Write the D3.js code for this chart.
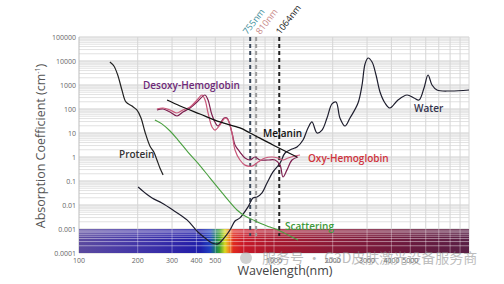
<!DOCTYPE html>
<html lang="en">
<head>
  <meta charset="UTF-8">
  <title>Absorption Coefficients</title>
  <script src="https://d3js.org/d3.v7.min.js"></script>
  <style>
    body {
      margin: 0;
      background-color: #fff;
      font-family: "Open Sans", Arial, sans-serif;
    }
    #chart {
      display: block;
    }
  </style>
</head>
<body>
  <svg id="chart" width="504" height="284"></svg>

  <script>
    // [wavelength nm, absorption coefficient cm^-1]
    const protein = [
      [144, 9100], [151, 6200], [158, 2600], [166, 620], [174, 196], [187, 133],
      [198, 91], [208, 42], [218, 11], [231, 2.9], [242, 1.6], [251, 0.75],
      [260, 0.35], [270, 0.18]
    ];
    const water = [
      [201, 0.056], [218, 0.032], [237, 0.0196], [266, 0.0121], [303, 0.0062],
      [358, 0.0024], [407, 0.00075], [443, 0.00042], [481, 0.00026], [516, 0.00024],
      [554, 0.00042], [595, 0.00091], [631, 0.00215], [669, 0.0029], [736, 0.0083],
      [780, 0.0196], [818, 0.0215], [868, 0.032], [921, 0.083], [988, 0.24],
      [1074, 0.56], [1139, 1.47], [1237, 2.15], [1312, 2.61], [1409, 5.1],
      [1494, 16.2], [1566, 29], [1662, 10], [1763, 13.3], [1870, 42], [1983, 162],
      [2080, 196], [2179, 42], [2312, 19.6], [2453, 42], [2697, 178], [2828, 1000],
      [2930, 7500], [3035, 13340], [3183, 9085], [3336, 2610], [3497, 510],
      [3707, 178], [3933, 110], [4324, 237], [4809, 383], [5224, 287], [5544, 237],
      [5879, 750], [6166, 2610], [6461, 1000], [6855, 619], [7993, 562], [10000, 619]
    ];
    const scattering = [
      [245, 35], [266, 24], [293, 12.1], [322, 5.1], [362, 1.61], [407, 0.56],
      [470, 0.133], [528, 0.042], [581, 0.0162], [646, 0.0062], [710, 0.0035],
      [780, 0.0024], [868, 0.0016], [955, 0.0012], [1074, 0.00083], [1208, 0.00051],
      [1328, 0.00035]
    ];
    const melanin = [
      [283, 237], [330, 133], [417, 62], [528, 29], [669, 16.2], [753, 10],
      [988, 3.16], [1312, 1]
    ];
    const oxyHb = [
      [251, 100], [270, 110], [293, 91], [318, 68], [341, 91], [371, 121],
      [403, 237], [427, 383], [443, 237], [459, 68], [481, 17.8], [498, 13.3],
      [528, 21.5], [561, 42], [581, 35], [609, 10], [631, 1.96], [669, 0.75],
      [710, 0.46], [771, 0.42], [828, 0.62], [899, 0.91], [977, 1], [1048, 0.91],
      [1112, 0.75], [1180, 0.91], [1282, 1.1], [1360, 1.21]
    ];
    const desoxyHb = [
      [251, 91], [270, 100], [293, 75], [318, 51], [341, 75], [371, 110],
      [403, 196], [443, 383], [459, 237], [481, 56], [516, 19.6], [554, 42],
      [574, 42], [609, 10], [631, 3.16], [669, 1.61], [710, 0.91], [753, 0.75],
      [799, 1], [847, 0.75], [931, 0.75], [1012, 0.75], [1074, 0.46], [1112, 0.147],
      [1166, 0.29], [1237, 0.75], [1328, 1]
    ];

    const laserNm = [755, 810, 1064];
    const laserLabels = ["755nm", "810nm", "1064nm"];
    const xTickValues = [100, 200, 300, 400, 500, 1000, 2000, 3000, 4000, 5000];
    const yTickValues = [100000, 10000, 1000, 100, 10, 1, 0.1, 0.01, 0.001, 0.0001];
    const yTickLabels = ["100000", "10000", "1000", "100", "10", "1", "0.1", "0.01", "0.001", "0.0001"];

    // visible light band under the curves
    const specNm = [100, 150, 250, 350, 420, 470, 500, 525, 560, 585, 620, 700, 1000, 2000, 5000, 10000];
    const specColor = ["#5b4a9e", "#4d3ea5", "#3a2fa8", "#2a22a8", "#1e1eaa", "#2040c0", "#1a7a6a",
      "#3aa030", "#d8d820", "#f09020", "#e02a20", "#c81828", "#a8182e", "#8a1a38", "#6a1a3e", "#5a2046"];

    const svg = d3.select("#chart");
    const x = d3.scaleLog().domain([100, 10000]).range([79, 469]);
    const y = d3.scaleLog().domain([0.0001, 100000]).range([253, 37]);

    // minor tick values for grid
    const minorY = [];
    for (let e = -4; e < 5; e++) {
      for (let m = 1; m < 10; m++) minorY.push(m * Math.pow(10, e));
    }
    minorY.push(100000);
    const minorX = [];
    for (let e = 2; e < 4; e++) {
      for (let m = 1; m < 10; m++) minorX.push(m * Math.pow(10, e));
    }
    minorX.push(10000);

    // grid
    const grid = svg.append("g");
    grid.selectAll(".hy")
      .data(minorY)
      .enter()
      .append("line")
      .attr("x1", 79).attr("x2", 469)
      .attr("y1", d => y(d)).attr("y2", d => y(d))
      .attr("stroke", d => yTickValues.includes(d) ? "#cfcfcf" : "#e2e2e2")
      .attr("stroke-width", 1);
    grid.selectAll(".vx")
      .data(minorX.slice(1))
      .enter()
      .append("line")
      .attr("x1", d => x(d)).attr("x2", d => x(d))
      .attr("y1", 37).attr("y2", 253)
      .attr("stroke", "#d6d6d6")
      .attr("stroke-width", 1);
    grid.append("line")
      .attr("x1", 79).attr("x2", 79).attr("y1", 37).attr("y2", 253)
      .attr("stroke", "#bdbdbd");

    // spectrum band
    const defs = svg.append("defs");
    const grad = defs.append("linearGradient")
      .attr("id", "spec")
      .attr("gradientUnits", "userSpaceOnUse")
      .attr("x1", x(100)).attr("x2", x(10000))
      .attr("y1", 0).attr("y2", 0);
    grad.selectAll("stop")
      .data(specNm)
      .enter()
      .append("stop")
      .attr("offset", d => (x(d) - x(100)) / (x(10000) - x(100)))
      .attr("stop-color", (d, i) => specColor[i]);
    svg.append("rect")
      .attr("x", x(100)).attr("y", y(0.001))
      .attr("width", x(10000) - x(100))
      .attr("height", y(0.0001) - y(0.001))
      .attr("fill", "url(#spec)");

    // light grid lines through the band
    const bandY = minorY.filter(d => d > 0.0001 && d < 0.001);
    svg.selectAll(".band-h")
      .data(bandY)
      .enter()
      .append("line")
      .attr("x1", 79).attr("x2", 469)
      .attr("y1", d => y(d)).attr("y2", d => y(d))
      .attr("stroke", "#fff")
      .attr("stroke-opacity", 0.45);
    svg.selectAll(".band-v")
      .data(minorX.slice(1, -1))
      .enter()
      .append("line")
      .attr("x1", d => x(d)).attr("x2", d => x(d))
      .attr("y1", y(0.001)).attr("y2", y(0.0001))
      .attr("stroke", "#fff")
      .attr("stroke-opacity", 0.35);

    // tick labels
    svg.selectAll(".ylab")
      .data(yTickValues)
      .enter()
      .append("text")
      .attr("x", 76)
      .attr("y", d => y(d) + 2.5)
      .attr("text-anchor", "end")
      .attr("font-size", 7)
      .attr("fill", "#666")
      .text((d, i) => yTickLabels[i]);
    svg.selectAll(".xlab")
      .data(xTickValues)
      .enter()
      .append("text")
      .attr("x", d => x(d))
      .attr("y", 263)
      .attr("text-anchor", "middle")
      .attr("font-size", 7)
      .attr("fill", "#666")
      .text(d => d);

    // laser lines
    const laserStroke = ["#3c4a5c", "#9a9a9a", "#222"];
    const laserText = ["#3f8f9c", "#c98a8a", "#222"];
    const labelShift = [-3, 4, 1];
    svg.selectAll(".laser")
      .data(laserNm)
      .enter()
      .append("line")
      .attr("x1", d => x(d)).attr("x2", d => x(d))
      .attr("y1", 37).attr("y2", 236)
      .attr("stroke", (d, i) => laserStroke[i])
      .attr("stroke-width", 2)
      .attr("stroke-dasharray", "4,3");
    svg.selectAll(".laser-label")
      .data(laserNm)
      .enter()
      .append("text")
      .attr("transform", (d, i) => `translate(${x(d) + labelShift[i]},35) rotate(-52)`)
      .attr("font-size", 9)
      .attr("fill", (d, i) => laserText[i])
      .text((d, i) => laserLabels[i]);

    // curves
    const line = d3.line()
      .x(d => x(d[0]))
      .y(d => y(d[1]))
      .curve(d3.curveCatmullRom.alpha(0.5));

    const series = [
      { data: water, color: "#1e1e2e", width: 1.2 },
      { data: protein, color: "#222", width: 1.2 },
      { data: scattering, color: "#4aa040", width: 1.1 },
      { data: desoxyHb, color: "#7d1f4f", width: 1.2 },
      { data: oxyHb, color: "#c9587a", width: 1.2 },
      { data: melanin, color: "#111", width: 1.3 }
    ];
    svg.selectAll(".curve")
      .data(series)
      .enter()
      .append("path")
      .attr("d", d => line(d.data))
      .attr("fill", "none")
      .attr("stroke", d => d.color)
      .attr("stroke-width", d => d.width);

    // curve names
    const names = [
      { t: "Desoxy-Hemoglobin", x: 143, y: 89, c: "#6e2a78" },
      { t: "Protein", x: 119, y: 158, c: "#333" },
      { t: "Melanin", x: 263, y: 137, c: "#111" },
      { t: "Oxy-Hemoglobin", x: 308, y: 162, c: "#d0333c" },
      { t: "Water", x: 414, y: 112, c: "#34344e" },
      { t: "Scattering", x: 285, y: 230, c: "#3e9a3a" }
    ];
    svg.selectAll(".name")
      .data(names)
      .enter()
      .append("text")
      .attr("x", d => d.x)
      .attr("y", d => d.y)
      .attr("font-size", 10)
      .attr("font-weight", 600)
      .attr("fill", d => d.c)
      .text(d => d.t);

    // axis titles
    svg.append("text")
      .attr("x", 285)
      .attr("y", 275)
      .attr("text-anchor", "middle")
      .attr("font-size", 12.5)
      .attr("fill", "#444")
      .text("Wavelength(nm)");
    const yt = svg.append("text")
      .attr("transform", "translate(45,146) rotate(-90)")
      .attr("text-anchor", "middle")
      .attr("font-size", 12.5)
      .attr("fill", "#555");
    yt.append("tspan").text("Absorption Coefficient (cm");
    yt.append("tspan").attr("dy", -5).attr("font-size", 7).text("-1");
    yt.append("tspan").attr("dy", 5).text(")");

    // watermark
    const wm = svg.append("g").attr("opacity", 0.55);
    wm.append("circle")
      .attr("cx", 246).attr("cy", 258).attr("r", 6)
      .attr("fill", "#aaa");
    wm.append("text")
      .attr("x", 262)
      .attr("y", 263)
      .attr("font-family", "'Noto Sans CJK SC', sans-serif")
      .attr("font-size", 14)
      .attr("fill", "#888")
      .text("服务号 · G3D皮肤激光设备服务商");
  </script>
</body>
</html>
